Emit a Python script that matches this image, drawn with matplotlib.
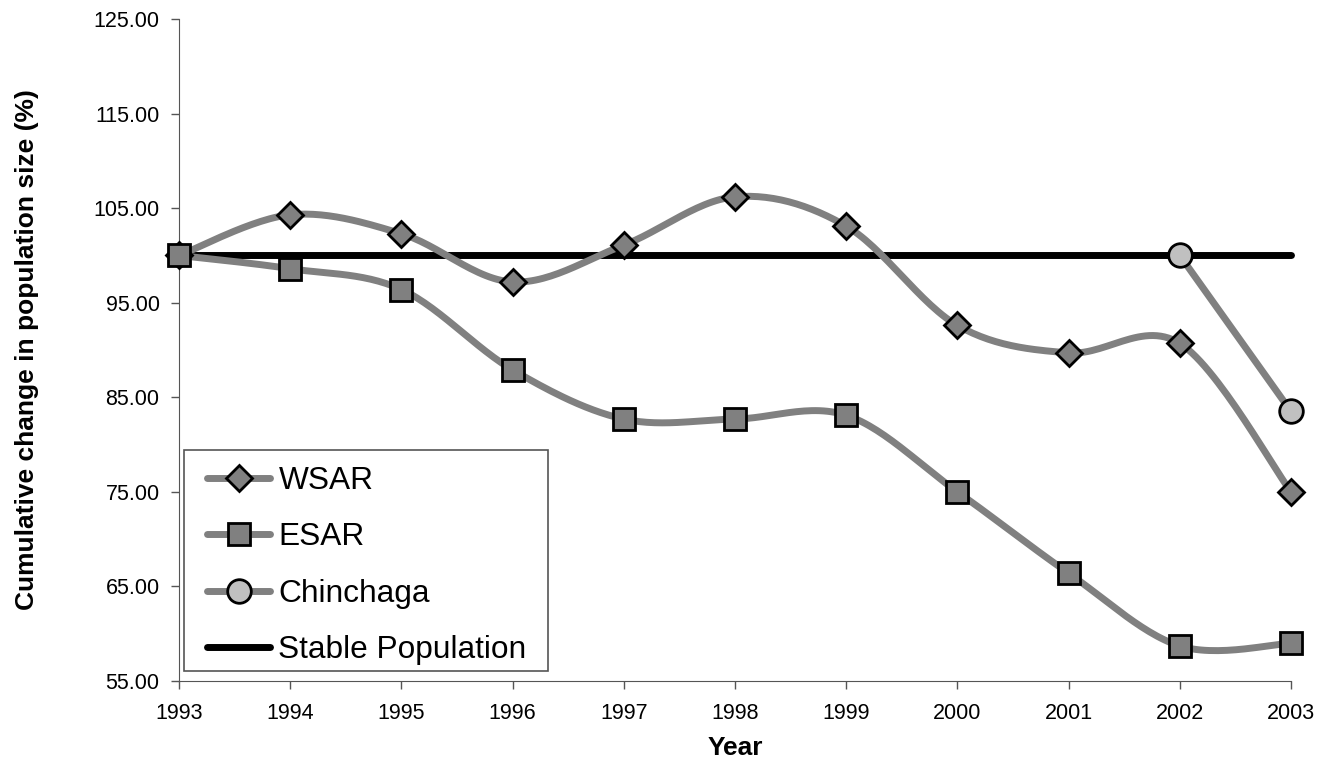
import numpy as np
import matplotlib.pyplot as plt
from matplotlib.lines import Line2D
from matplotlib.patches import Rectangle
from matplotlib.transforms import IdentityTransform

plt.rcParams['font.family'] = ['Liberation Sans', 'DejaVu Sans']

# data
years = [1993, 1994, 1995, 1996, 1997, 1998, 1999, 2000, 2001, 2002, 2003]
wsar = [100.0, 104.3, 102.3, 97.2, 101.1, 106.2, 103.1, 92.6, 89.7, 90.7, 75.0]
esar = [100.0, 98.6, 96.4, 87.9, 82.7, 82.7, 83.1, 75.0, 66.4, 58.7, 59.0]
chin_years = [2002, 2003]
chinchaga = [100.0, 83.5]
stable = [100.0] * len(years)


# Excel-style smoothed line (Catmull-Rom via cubic Bezier)
def smooth(x, y, n=30):
    x = np.asarray(x, float)
    y = np.asarray(y, float)
    if len(x) < 3:
        return x, y
    px = np.concatenate([[x[0]], x, [x[-1]]])
    py = np.concatenate([[y[0]], y, [y[-1]]])
    xs, ys = [], []
    t = np.linspace(0, 1, n)
    for i in range(1, len(px) - 2):
        p0 = np.array([px[i], py[i]])
        p3 = np.array([px[i + 1], py[i + 1]])
        c1 = p0 + (np.array([px[i + 1], py[i + 1]]) - np.array([px[i - 1], py[i - 1]])) / 6
        c2 = p3 - (np.array([px[i + 2], py[i + 2]]) - np.array([px[i], py[i]])) / 6
        b = ((1 - t) ** 3)[:, None] * p0 + (3 * (1 - t) ** 2 * t)[:, None] * c1 \
            + (3 * (1 - t) * t ** 2)[:, None] * c2 + (t ** 3)[:, None] * p3
        xs.append(b[:, 0])
        ys.append(b[:, 1])
    return np.concatenate(xs), np.concatenate(ys)


fig = plt.figure(figsize=(13.31, 7.62), dpi=100)
ax = fig.add_axes([0.1345, 0.1063, 0.8355, 0.8687])

gray = '#808080'
lw = 5
mew = 2

ax.plot(years, stable, color='black', lw=lw, solid_capstyle='round', zorder=2, clip_on=False)

styles = [(years, wsar, 'D', gray, 13),
          (years, esar, 's', gray, 16),
          (chin_years, chinchaga, 'o', '#C0C0C0', 17)]
for xx, yy, mk, fc, ms in styles:
    sx, sy = smooth(xx, yy)
    ax.plot(sx, sy, color=gray, lw=lw, solid_capstyle='round', zorder=3, clip_on=False)
    ax.plot(xx, yy, ls='none', marker=mk, ms=ms, mfc=fc, mec='black', mew=mew,
            zorder=4, clip_on=False)

# legend handles
handles = [
    Line2D([], [], color=gray, lw=lw, solid_capstyle='round', marker='D', ms=13,
           mfc=gray, mec='black', mew=mew),
    Line2D([], [], color=gray, lw=lw, solid_capstyle='round', marker='s', ms=16,
           mfc=gray, mec='black', mew=mew),
    Line2D([], [], color=gray, lw=lw, solid_capstyle='round', marker='o', ms=17,
           mfc='#C0C0C0', mec='black', mew=mew),
    Line2D([], [], color='black', lw=lw, solid_capstyle='round'),
]
leg = ax.legend(handles, ['WSAR', 'ESAR', 'Chinchaga', 'Stable Population'],
                loc='lower left', bbox_to_anchor=(0.0153, 0.0076), borderaxespad=0,
                fontsize=22.8, frameon=False,
                handlelength=2.0, handletextpad=0.25, labelspacing=0.83,
                borderpad=0.35)
leg.set_zorder(6)

ax.set_xlim(1993, 2003)
ax.set_ylim(55, 125)
ax.set_xticks(years)
ax.set_yticks(np.arange(55, 126, 10))
ax.set_yticklabels([f'{v:.2f}' for v in np.arange(55, 126, 10)])
ax.tick_params(labelsize=15.5, length=6, direction='out', width=1, color='#555555')
ax.tick_params(axis='x', pad=10)
ax.tick_params(axis='y', pad=8)
ax.spines['top'].set_visible(False)
ax.spines['right'].set_visible(False)
ax.spines['left'].set_color('#555555')
ax.spines['bottom'].set_color('#555555')

ax.set_xlabel('Year', fontsize=19, fontweight='bold')
ax.set_ylabel('Cumulative change in population size (%)', fontsize=19,
              fontweight='bold')
ax.xaxis.set_label_coords(0.5, -0.083)
ax.yaxis.set_label_coords(-0.126, 0.5)

# legend frame with wider side margins than the default padding allows
fig.canvas.draw()
bb = leg.get_window_extent()
frame = Rectangle((bb.x0 - 12, bb.y0 + 5), bb.width + 22, bb.height,
                  transform=IdentityTransform(), facecolor='white',
                  edgecolor='#555555', lw=1.2, zorder=5, clip_on=False)
ax.add_patch(frame)

fig.savefig('out.png', dpi=100)
